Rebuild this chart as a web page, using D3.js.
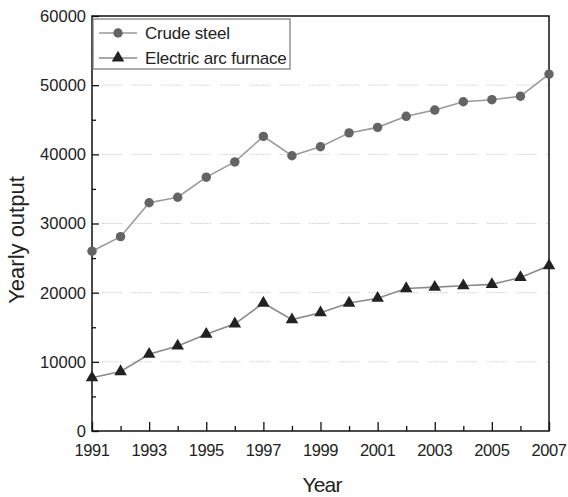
<!DOCTYPE html>
<html>
<head>
<meta charset="utf-8">
<script src="https://cdn.jsdelivr.net/npm/d3@7"></script>
<style>
  html, body { margin: 0; padding: 0; background: #fff; }
  svg { display: block; font-family: "Liberation Sans", Arial, sans-serif; }
</style>
</head>
<body>
<svg id="chart" width="568" height="497"></svg>
<script>
// Yearly output, 1991–2007
const years = [1991,1992,1993,1994,1995,1996,1997,1998,1999,2000,2001,2002,2003,2004,2005,2006,2007];
const crudeSteel = [26000,28100,33000,33800,36700,38900,42600,39800,41100,43100,43900,45500,46400,47600,47900,48400,51600];
const electricArc = [7700,8600,11100,12300,14000,15500,18500,16100,17100,18500,19200,20600,20800,21000,21200,22200,23900];
const seriesNames = ["Crude steel", "Electric arc furnace"];
const yTicks = [0,10000,20000,30000,40000,50000,60000];
const xTickLabels = [1991,1993,1995,1997,1999,2001,2003,2005,2007];

const svg = d3.select("#chart");
const plotLeft = 92, plotRight = 549, plotTop = 16, plotBottom = 431;

const x = d3.scaleLinear().domain([1991, 2007]).range([plotLeft, plotRight]);
const y = d3.scaleLinear().domain([0, 60000]).range([plotBottom, plotTop]);

// dotted grid lines
svg.append("g")
  .selectAll("line")
  .data(yTicks.filter(v => v > 0 && v < 60000))
  .join("line")
  .attr("x1", plotLeft + 10).attr("x2", plotRight)
  .attr("y1", d => y(d)).attr("y2", d => y(d))
  .attr("stroke", "#d4d4d4")
  .attr("stroke-width", 1)
  .attr("stroke-dasharray", "2,1,2,1,2,1,2,1,2,1,2,1,2,9.6");

// left axis: inward ticks, minor every 5000
const yAxis = d3.axisRight(y)
  .tickValues(d3.range(0, 60001, 5000))
  .tickSize(0)
  .tickFormat("");
const gy = svg.append("g").attr("transform", `translate(${plotLeft},0)`).call(yAxis);
gy.select(".domain").remove();
gy.selectAll(".tick line")
  .attr("x2", d => d % 10000 === 0 ? 7 : 4)
  .attr("stroke", "#111").attr("stroke-width", 1.3);
svg.append("g")
  .selectAll("text")
  .data(yTicks)
  .join("text")
  .attr("x", plotLeft - 6)
  .attr("y", d => y(d))
  .attr("dy", "0.36em")
  .attr("text-anchor", "end")
  .attr("font-size", 16.5)
  .attr("fill", "#222")
  .text(d => d);

// bottom axis: inward ticks, labels every other year
const xAxis = d3.axisTop(x)
  .tickValues(years)
  .tickSize(0)
  .tickFormat("");
const gx = svg.append("g").attr("transform", `translate(0,${plotBottom})`).call(xAxis);
gx.select(".domain").remove();
gx.selectAll(".tick line")
  .attr("y2", d => (d - 1991) % 2 === 0 ? -9 : -5)
  .attr("stroke", "#111").attr("stroke-width", 1.3);
svg.append("g")
  .selectAll("text")
  .data(xTickLabels)
  .join("text")
  .attr("x", d => x(d))
  .attr("y", plotBottom + 25)
  .attr("text-anchor", "middle")
  .attr("font-size", 16.5)
  .attr("letter-spacing", "-0.4")
  .attr("fill", "#222")
  .text(d => d);

// frame
svg.append("rect")
  .attr("x", plotLeft).attr("y", plotTop)
  .attr("width", plotRight - plotLeft).attr("height", plotBottom - plotTop)
  .attr("fill", "none").attr("stroke", "#111").attr("stroke-width", 1.5);

// axis titles
svg.append("text")
  .attr("x", 322)
  .attr("y", 492)
  .attr("text-anchor", "middle")
  .attr("font-size", 21)
  .attr("letter-spacing", "-0.8")
  .attr("fill", "#222")
  .text("Year");
svg.append("text")
  .attr("transform", "translate(24,240) rotate(-90)")
  .attr("text-anchor", "middle")
  .attr("font-size", 22)
  .attr("fill", "#222")
  .text("Yearly output");

// series lines
const line = d3.line().x((d, i) => x(years[i])).y(d => y(d));
const plot = svg.append("g");
plot.append("path").datum(crudeSteel)
  .attr("d", line).attr("fill", "none")
  .attr("stroke", "#9a9a9a").attr("stroke-width", 1.6);
plot.append("path").datum(electricArc)
  .attr("d", line).attr("fill", "none")
  .attr("stroke", "#8a8a8a").attr("stroke-width", 1.6);

const circleSym = d3.symbol().type(d3.symbolCircle).size(70);
const triSym = d3.symbol().type(d3.symbolTriangle).size(68);

plot.append("g").selectAll("path")
  .data(crudeSteel)
  .join("path")
  .attr("transform", (d, i) => `translate(${x(years[i])},${y(d)})`)
  .attr("d", circleSym)
  .attr("fill", "#646464");
plot.append("g").selectAll("path")
  .data(electricArc)
  .join("path")
  .attr("transform", (d, i) => `translate(${x(years[i])},${y(d)})`)
  .attr("d", triSym)
  .attr("fill", "#222");

// legend
const legend = svg.append("g");
legend.append("rect")
  .attr("x", 93).attr("y", 19).attr("width", 197).attr("height", 50)
  .attr("fill", "#fff").attr("stroke", "#777").attr("stroke-width", 1.2);
const rows = [
  { name: seriesNames[0], sym: circleSym, fill: "#646464", stroke: "#9a9a9a", yy: 33 },
  { name: seriesNames[1], sym: triSym, fill: "#222", stroke: "#8a8a8a", yy: 58 }
];
rows.forEach(r => {
  legend.append("line")
    .attr("x1", 99).attr("x2", 137).attr("y1", r.yy).attr("y2", r.yy)
    .attr("stroke", r.stroke).attr("stroke-width", 1.6);
  legend.append("path")
    .attr("transform", `translate(118,${r.yy})`)
    .attr("d", r.sym).attr("fill", r.fill);
  legend.append("text")
    .attr("x", 145).attr("y", r.yy).attr("dy", "0.36em")
    .attr("font-size", 17).attr("letter-spacing", "-0.2")
    .attr("fill", "#222")
    .text(r.name);
});
</script>
</body>
</html>
